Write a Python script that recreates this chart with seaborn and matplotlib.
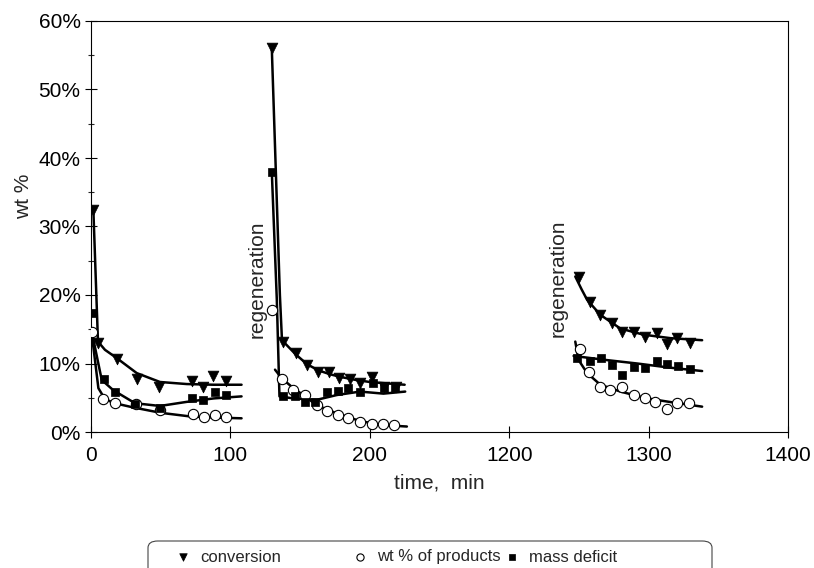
import numpy as np
import pandas as pd
import matplotlib.pyplot as plt
from matplotlib.patches import FancyBboxPatch
from matplotlib.ticker import PercentFormatter, MultipleLocator
import seaborn as sns

# ---- measured points (time in min, value in wt %) ----
conv_t = [1.7, 5.0, 18.4, 32.8, 49.0, 72.3, 80.6, 87.8, 96.9,
          129.7, 137.5, 147.0, 154.8, 162.6, 171.0, 178.0, 186.0, 193.0, 201.5, 210.5, 218.8,
          1249.8, 1258.2, 1265.4, 1273.8, 1281.0, 1289.3, 1297.7, 1306.1, 1313.3, 1320.5, 1330.0]
conv_y = [32.4, 13.0, 10.6, 7.8, 6.6, 7.5, 6.6, 8.2, 7.5,
          56.0, 13.1, 11.5, 9.8, 8.8, 8.8, 7.9, 7.7, 7.2, 8.1, 6.6, 6.5,
          22.7, 19.0, 17.1, 15.9, 14.6, 14.6, 13.8, 14.5, 12.9, 13.7, 13.0]

prod_t = [0.5, 8.4, 17.2, 32.3, 49.5, 73.5, 81.0, 89.0, 96.7,
          129.7, 136.9, 145.2, 153.6, 162.0, 169.2, 177.5, 184.7, 193.0, 201.5, 209.8, 217.5,
          1251.0, 1257.0, 1265.4, 1272.6, 1281.0, 1289.3, 1297.7, 1304.9, 1313.3, 1320.5, 1328.8]
prod_y = [14.6, 4.8, 4.3, 4.1, 3.2, 2.6, 2.2, 2.5, 2.2,
          17.8, 7.8, 6.1, 5.4, 3.9, 3.0, 2.5, 2.0, 1.5, 1.2, 1.2, 1.0,
          12.1, 8.7, 6.6, 6.2, 6.6, 5.4, 4.9, 4.4, 3.3, 4.2, 4.3]

mass_t = [1.0, 9.3, 17.2, 31.6, 49.5, 72.3, 80.6, 89.0, 96.9,
          129.7, 137.6, 146.0, 153.6, 160.8, 169.5, 177.5, 184.7, 193.0, 202.0, 210.0, 218.0,
          1248.7, 1257.7, 1265.9, 1273.8, 1281.0, 1289.8, 1297.7, 1306.1, 1313.3, 1320.9, 1329.5]
mass_y = [17.4, 7.8, 5.9, 4.1, 3.5, 4.9, 4.7, 5.9, 5.4,
          38.0, 5.2, 5.2, 4.4, 4.4, 5.8, 6.0, 6.4, 5.9, 7.1, 6.4, 6.4,
          10.8, 10.4, 10.8, 9.8, 8.3, 9.5, 9.3, 10.4, 10.0, 9.6, 9.2]

# ---- fitted curves, one list per run ----
conv_fit1_t = [1.7, 5.0, 10.0, 18.4, 32.8, 49.5, 68.7, 87.9, 108.0]
conv_fit1_y = [32.4, 13.2, 12.0, 10.8, 8.6, 7.3, 7.0, 6.9, 6.9]
conv_fit2_t = [129.7, 135.5, 137.0, 147.0, 155.0, 163.0, 172.0, 180.0, 190.0, 200.0, 212.0, 225.0]
conv_fit2_y = [56.0, 20.0, 13.4, 11.3, 9.9, 9.0, 8.4, 8.0, 7.6, 7.3, 7.1, 6.9]
conv_fit3_t = [1247.4, 1252.0, 1255.9, 1265.4, 1279.8, 1296.5, 1315.7, 1338.4]
conv_fit3_y = [22.7, 20.8, 19.3, 17.1, 15.1, 14.2, 13.7, 13.4]

prod_fit1_t = [0.5, 5.3, 10.0, 17.0, 30.0, 50.0, 70.0, 90.0, 108.0]
prod_fit1_y = [14.4, 6.4, 4.8, 4.2, 3.6, 2.8, 2.3, 2.1, 2.0]
prod_fit2_t = [132.0, 137.0, 145.2, 153.6, 162.0, 176.4, 193.0, 209.8, 226.6]
prod_fit2_y = [9.1, 7.8, 6.4, 5.2, 3.9, 2.7, 1.6, 1.0, 0.8]
prod_fit3_t = [1247.4, 1249.8, 1255.9, 1265.4, 1279.8, 1298.9, 1318.0, 1338.4]
prod_fit3_y = [13.2, 10.5, 8.6, 6.9, 5.9, 4.9, 4.3, 3.7]

mass_fit1_t = [1.0, 7.7, 16.0, 31.6, 49.5, 68.7, 87.9, 108.0]
mass_fit1_y = [14.2, 7.6, 6.1, 4.2, 3.8, 4.4, 4.9, 5.2]
mass_fit2_t = [129.7, 133.3, 135.2, 145.2, 162.0, 176.4, 193.0, 209.8, 225.4]
mass_fit2_y = [38.0, 19.3, 5.2, 4.9, 4.7, 5.4, 5.9, 5.6, 5.9]
mass_fit3_t = [1246.2, 1270.0, 1291.8, 1315.0, 1338.4]
mass_fit3_y = [11.1, 10.5, 10.0, 9.4, 8.9]

tick_pos = [0, 100, 200, 300, 400, 500]
tick_labels = ['0', '100', '200', '1200', '1300', '1400']


def to_axis(t):
    # the time axis skips 300..1200 min
    t = np.asarray(t, dtype=float)
    return np.where(t > 600, t - 900, t)


def points(t, y, name):
    return pd.DataFrame({'x': to_axis(t), 'y': np.asarray(y) / 100, 'series': name})


fits = []
for name, segs in [('conv', [(conv_fit1_t, conv_fit1_y), (conv_fit2_t, conv_fit2_y), (conv_fit3_t, conv_fit3_y)]),
                   ('prod', [(prod_fit1_t, prod_fit1_y), (prod_fit2_t, prod_fit2_y), (prod_fit3_t, prod_fit3_y)]),
                   ('mass', [(mass_fit1_t, mass_fit1_y), (mass_fit2_t, mass_fit2_y), (mass_fit3_t, mass_fit3_y)])]:
    for k, (t, y) in enumerate(segs):
        d = points(t, y, name)
        d['key'] = f'{name}{k}'
        fits.append(d)
fits = pd.concat(fits, ignore_index=True)

sns.set_theme(style='ticks')
plt.rcParams['font.family'] = ['Liberation Sans', 'DejaVu Sans']

W, H = 814, 568
fig = plt.figure(figsize=(W / 100, H / 100), dpi=100)
ax = fig.add_axes([91 / W, 1 - 432 / H, 697 / W, (432 - 21) / H])

sns.lineplot(data=fits, x='x', y='y', units='key', estimator=None, sort=False,
             color='black', linewidth=1.8, legend=False, ax=ax)

sns.scatterplot(data=points(conv_t, conv_y, 'conversion'), x='x', y='y', marker='v',
                s=60, color='black', edgecolor='black', linewidth=0.5, label='conversion', ax=ax, zorder=3)
sns.scatterplot(data=points(prod_t, prod_y, 'wt % of products'), x='x', y='y', marker='o',
                s=55, facecolor='white', edgecolor='black', linewidth=0.8,
                label='wt % of products', ax=ax, zorder=3)
sns.scatterplot(data=points(mass_t, mass_y, 'mass deficit'), x='x', y='y', marker='s',
                s=40, color='black', edgecolor='black', linewidth=0.5, label='mass deficit', ax=ax, zorder=3)

ax.set_xlim(0, 500)
ax.set_ylim(0, 0.6)
ax.set_xticks(tick_pos)
ax.set_xticklabels(tick_labels)
ax.yaxis.set_major_locator(MultipleLocator(0.1))
ax.yaxis.set_minor_locator(MultipleLocator(0.05))
ax.yaxis.set_major_formatter(PercentFormatter(1.0, decimals=0))
ax.tick_params(which='major', direction='inout', length=8, width=0.8, labelsize=15, colors='black')
ax.tick_params(which='minor', direction='inout', length=5, width=0.8)
ax.tick_params(axis='x', pad=6)
for sp in ax.spines.values():
    sp.set_visible(True)
    sp.set_linewidth(0.8)
    sp.set_color('black')

ax.set_xlabel('time,  min', fontsize=15, labelpad=6)
ax.set_ylabel('wt %', fontsize=15)
ax.yaxis.set_label_coords(-0.083, 0.574)

ax.text(119, 0.223, 'regeneration', rotation=90, fontsize=15, ha='center', va='center')
ax.text(335, 0.225, 'regeneration', rotation=90, fontsize=15, ha='center', va='center')

# legend: one entry per block, placed like the original, inside a rounded frame
handles, labels = ax.get_legend_handles_labels()
ax.get_legend().remove()
entry_x = [175, 352, 504]
for h, lab, x0 in zip(handles, labels, entry_x):
    fig.legend([h], [lab], loc='center left', bbox_to_anchor=(x0 / W, 1 - 557 / H),
               frameon=False, fontsize=12, markerscale=0.7, handlelength=1.0,
               handletextpad=0.5, borderpad=0, borderaxespad=0)
frame = FancyBboxPatch((148 / W, 1 - 590 / H), 564 / W, 49 / H, transform=fig.transFigure,
                       boxstyle='round,pad=0,rounding_size=0.012', facecolor='none',
                       edgecolor='#444444', linewidth=0.8)
fig.patches.append(frame)

fig.savefig('out.png', dpi=100)
